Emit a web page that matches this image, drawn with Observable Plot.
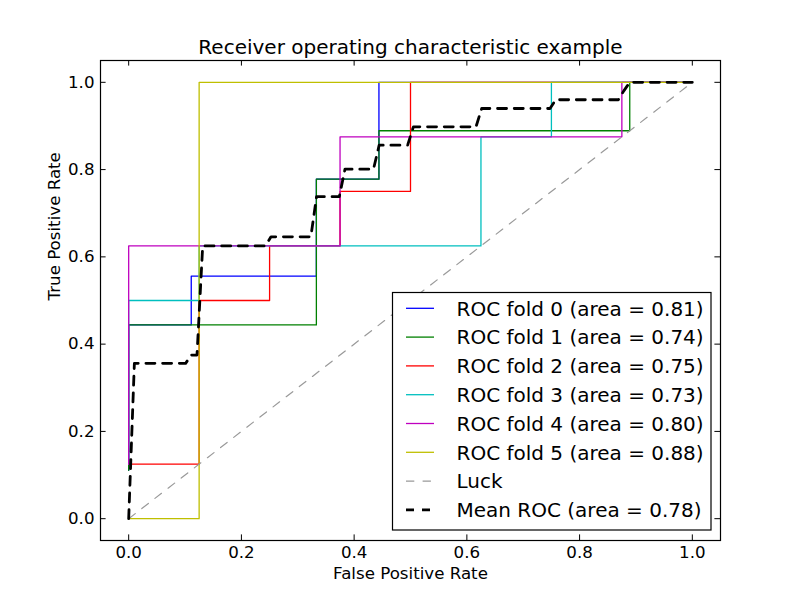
<!DOCTYPE html>
<html>
<head>
<meta charset="utf-8">
<script src="https://cdn.jsdelivr.net/npm/d3@7"></script>
<script src="https://cdn.jsdelivr.net/npm/@observablehq/plot@0.6"></script>
<style>
  html, body { margin: 0; padding: 0; background: white; }
  #chart { width: 800px; height: 600px; }
  svg { font-family: "DejaVu Sans", sans-serif; }
</style>
</head>
<body>
<div id="chart"></div>
<script>
// ---- Data ----
const titleText = ["Receiver operating characteristic example"];
const xLabelText = ["False Positive Rate"];
const yLabelText = ["True Positive Rate"];
const xTicks = [0.0, 0.2, 0.4, 0.6, 0.8, 1.0];
const yTicks = [0.0, 0.2, 0.4, 0.6, 0.8, 1.0];

const foldLabels = [
  "ROC fold 0 (area = 0.81)",
  "ROC fold 1 (area = 0.74)",
  "ROC fold 2 (area = 0.75)",
  "ROC fold 3 (area = 0.73)",
  "ROC fold 4 (area = 0.80)",
  "ROC fold 5 (area = 0.88)"
];
const foldColors = ["#0000ff", "#008000", "#ff0000", "#00bfbf", "#bf00bf", "#bfbf00"];

const fold0Fpr = [0, 0, 0.111, 0.111, 0.333, 0.333, 0.444, 0.444, 1.0];
const fold0Tpr = [0.111, 0.444, 0.444, 0.556, 0.556, 0.778, 0.778, 1.0, 1.0];
const fold1Fpr = [0, 0, 0.333, 0.333, 0.444, 0.444, 0.889, 0.889, 1.0];
const fold1Tpr = [0.111, 0.444, 0.444, 0.778, 0.778, 0.889, 0.889, 1.0, 1.0];
const fold2Fpr = [0, 0.125, 0.125, 0.25, 0.25, 0.375, 0.375, 0.5, 0.5, 1.0];
const fold2Tpr = [0.125, 0.125, 0.5, 0.5, 0.625, 0.625, 0.75, 0.75, 1.0, 1.0];
const fold3Fpr = [0, 0, 0.125, 0.125, 0.625, 0.625, 0.75, 0.75, 1.0];
const fold3Tpr = [0.125, 0.5, 0.5, 0.625, 0.625, 0.875, 0.875, 1.0, 1.0];
const fold4Fpr = [0, 0, 0.375, 0.375, 0.875, 0.875, 1.0];
const fold4Tpr = [0.125, 0.625, 0.625, 0.875, 0.875, 1.0, 1.0];
const fold5Fpr = [0, 0.125, 0.125, 1.0];
const fold5Tpr = [0, 0, 1.0, 1.0];

const luckLabel = "Luck";
const luckFpr = [0, 1];
const luckTpr = [0, 1];

const meanLabel = "Mean ROC (area = 0.78)";
const meanFpr = [0, 0.0101, 0.1010, 0.1111, 0.1212, 0.1313, 0.2424, 0.2525, 0.3232, 0.3333,
                 0.3737, 0.3838, 0.4343, 0.4444, 0.4949, 0.5051, 0.6162, 0.6263, 0.7475, 0.7576,
                 0.8687, 0.8788, 0.8889, 1.0];
const meanTpr = [0, 0.356, 0.356, 0.375, 0.375, 0.625, 0.625, 0.646, 0.646, 0.738,
                 0.738, 0.801, 0.801, 0.856, 0.856, 0.898, 0.898, 0.940, 0.940, 0.960,
                 0.960, 0.981, 1.0, 1.0];

// ---- Build tables ----
const foldFprs = [fold0Fpr, fold1Fpr, fold2Fpr, fold3Fpr, fold4Fpr, fold5Fpr];
const foldTprs = [fold0Tpr, fold1Tpr, fold2Tpr, fold3Tpr, fold4Tpr, fold5Tpr];
const foldTables = foldFprs.map((fx, i) => fx.map((x, j) => ({x, y: foldTprs[i][j]})));
const luckTable = luckFpr.map((x, j) => ({x, y: luckTpr[j]}));
const meanTable = meanFpr.map((x, j) => ({x, y: meanTpr[j]}));

const FS = 16.67;
const innerH = 480, innerW = 620, tickLen = 5.6;

const marks = [];
foldTables.forEach((t, i) => {
  marks.push(Plot.line(t, {x: "x", y: "y", stroke: foldColors[i], strokeWidth: 1.3}));
});
marks.push(Plot.line(luckTable, {x: "x", y: "y", stroke: "#999999", strokeWidth: 1.2, strokeDasharray: "8.3,8.3"}));
marks.push(Plot.line(meanTable, {x: "x", y: "y", stroke: "black", strokeWidth: 2.8, strokeDasharray: "9,7.7"}));

// ticks inward on all four sides
marks.push(Plot.tickX(xTicks, {x: d => d, insetTop: innerH - tickLen, stroke: "black", strokeWidth: 1}));
marks.push(Plot.tickX(xTicks, {x: d => d, insetBottom: innerH - tickLen, stroke: "black", strokeWidth: 1}));
marks.push(Plot.tickY(yTicks, {y: d => d, insetRight: innerW - tickLen, stroke: "black", strokeWidth: 1}));
marks.push(Plot.tickY(yTicks, {y: d => d, insetLeft: innerW - tickLen, stroke: "black", strokeWidth: 1}));

marks.push(Plot.axisX(xTicks, {tickSize: 0, tickPadding: 6, tickFormat: d3.format(".1f"), label: null, fontSize: FS, fill: "black"}));
marks.push(Plot.axisY(yTicks, {tickSize: 0, tickPadding: 6, tickFormat: d3.format(".1f"), label: null, fontSize: FS, fill: "black"}));
marks.push(Plot.frame({stroke: "black", strokeWidth: 1.2}));

marks.push(Plot.text(titleText, {frameAnchor: "top", dy: -21, text: d => d, fontSize: 20, fill: "black"}));
marks.push(Plot.text(xLabelText, {frameAnchor: "bottom", dy: 38, text: d => d, fontSize: FS, fill: "black"}));
marks.push(Plot.text(yLabelText, {frameAnchor: "left", dx: -46, rotate: -90, text: d => d, fontSize: FS, fill: "black"}));

const svg = Plot.plot({
  width: 800,
  height: 600,
  marginLeft: 100,
  marginRight: 80,
  marginTop: 60,
  marginBottom: 60,
  x: {domain: [-0.05, 1.05]},
  y: {domain: [-0.05, 1.05]},
  style: {fontFamily: "DejaVu Sans", fontSize: FS + "px", background: "white", color: "black", overflow: "visible"},
  marks
});

// ---- Legend ----
const legendItems = foldLabels.map((l, i) => ({label: l, color: foldColors[i], width: 1.3, dash: null}))
  .concat([{label: luckLabel, color: "#999999", width: 1.2, dash: "8.3,8.3"},
           {label: meanLabel, color: "black", width: 2.8, dash: "8,8"}]);
const lg = d3.select(svg).append("g")
  .attr("font-family", "DejaVu Sans")
  .attr("font-size", 20)
  .attr("text-anchor", "start");
lg.append("rect")
  .attr("x", 392.5).attr("y", 292.5)
  .attr("width", 318.5).attr("height", 237.5)
  .attr("fill", "white").attr("stroke", "black").attr("stroke-width", 1.2);
legendItems.forEach((it, i) => {
  const cy = 308.3 + 28.8 * i;
  const ln = lg.append("line")
    .attr("x1", 406).attr("x2", 434).attr("y1", cy).attr("y2", cy)
    .attr("stroke", it.color).attr("stroke-width", it.width);
  if (it.dash) ln.attr("stroke-dasharray", it.dash);
  lg.append("text").attr("x", 456.5).attr("y", cy + 7.3)
    .attr("text-anchor", "start").attr("fill", "black").text(it.label);
});

document.getElementById("chart").appendChild(svg);
</script>
</body>
</html>
